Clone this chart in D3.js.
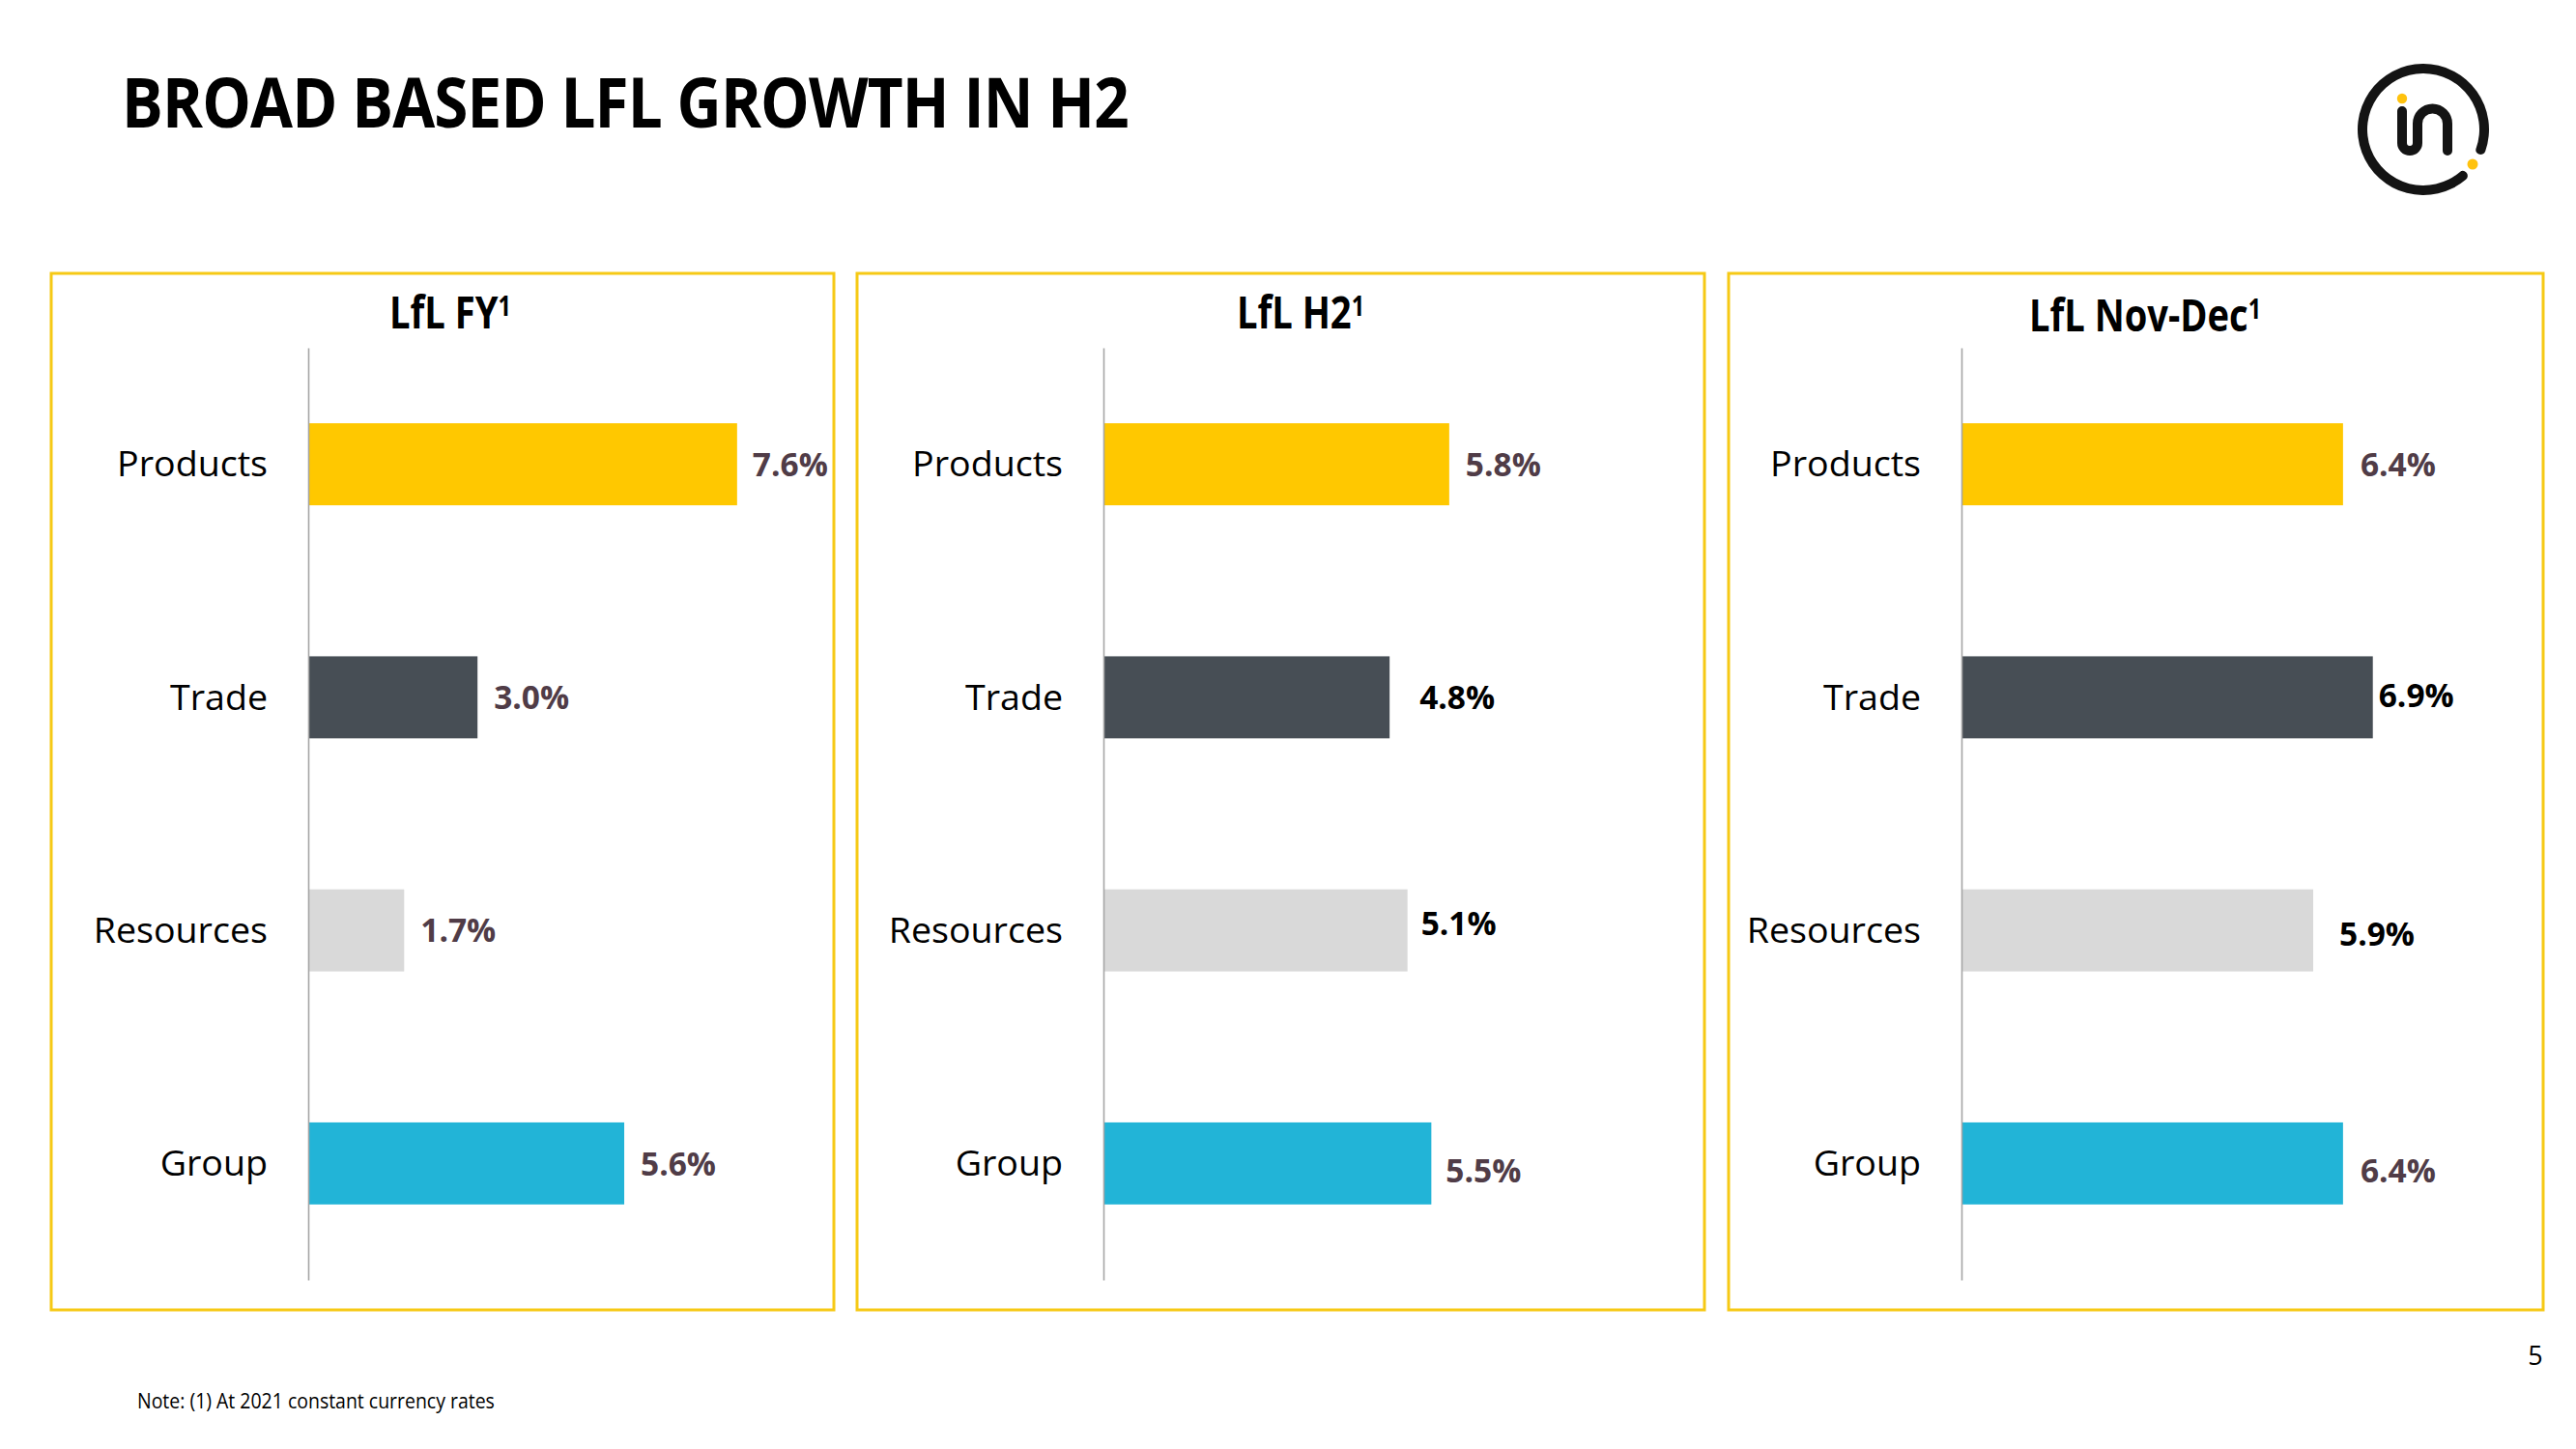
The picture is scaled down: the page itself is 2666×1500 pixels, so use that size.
<!DOCTYPE html>
<html>
<head>
<meta charset="utf-8">
<script src="https://cdn.jsdelivr.net/npm/d3@7"></script>
<style>
  html, body { margin: 0; padding: 0; background: #ffffff; }
  svg { display: block; }
</style>
</head>
<body>
<script>
// ---------------- DATA ----------------
const categories = ["Products", "Trade", "Resources", "Group"];
const panelTitles = ["LfL FY", "LfL H2", "LfL Nov-Dec"];
const lflFY = [7.6, 3.0, 1.7, 5.6];
const lflH2 = [5.8, 4.8, 5.1, 5.5];
const lflNovDec = [6.4, 6.9, 5.9, 6.4];
const seriesValues = [lflFY, lflH2, lflNovDec];
const chartTitle = "BROAD BASED LFL GROWTH IN H2";
const noteText = "Note: (1) At 2021 constant currency rates";
const pageNumber = "5";

// ---------------- LAYOUT / STYLE ----------------
const W = 2666, H = 1500;
const barColors = ["#FFC800", "#474E55", "#D9D9D9", "#22B4D7"];
const BROWN = "#503C47", BLACK = "#000000";
const panels = [
  { x0: 53, x1: 863, axisX: 319, range: 584, titleCx: 466, titleBase: 340 },
  { x0: 887, x1: 1764, axisX: 1142, range: 617, titleCx: 1346, titleBase: 340 },
  { x0: 1789, x1: 2632, axisX: 2030, range: 617, titleCx: 2220, titleBase: 343 }
];
const panelTop = 283, panelBottom = 1356;
const axisTop = 360, axisBottom = 1325;
// label colours and small nudges (dx, dy) per panel, per bar
const labelColors = [
  [BROWN, BROWN, BROWN, BROWN],
  [BROWN, BLACK, BLACK, BROWN],
  [BROWN, BLACK, BLACK, BROWN]
];
const labelNudge = [
  [[-1, 0], [0, 0], [0, 0], [0, 0]],
  [[0, 0], [14, 0], [-3, -7], [-2, 7]],
  [[1, 0], [-11, -2], [10, 4], [1, 7]]
];
const FONT = "'Open Sans', 'Noto Sans', 'DejaVu Sans', sans-serif";

const svg = d3.select("body").append("svg")
  .attr("width", W).attr("height", H)
  .attr("viewBox", `0 0 ${W} ${H}`);

svg.append("rect").attr("width", W).attr("height", H).attr("fill", "#fff");

// helper: squeeze a group of texts horizontally so that a reference text matches a target width
function squeeze(nodes, refNode, target) {
  const w = refNode.getBBox().width;
  const f = w > 0 ? target / w : 1;
  nodes.forEach(n => {
    const t = d3.select(n);
    const tx = +t.attr("data-x"), ty = +t.attr("data-y");
    t.attr("transform", `translate(${tx},${ty}) scale(${f},1)`);
  });
  return f;
}

// ---------------- TITLE ----------------
const title = svg.append("text")
  .attr("data-x", 126).attr("data-y", 132)
  .attr("transform", "translate(126,132)")
  .attr("font-family", FONT).attr("font-weight", 700)
  .attr("font-size", 72).attr("fill", "#000")
  .attr("letter-spacing", -1)
  .text(chartTitle);
squeeze([title.node()], title.node(), 1042);

// ---------------- LOGO ----------------
const logo = svg.append("g").attr("transform", "translate(2508,134)");
logo.append("path")
  .attr("d", d3.arc().innerRadius(58).outerRadius(68)
    .startAngle(135 * Math.PI / 180).endAngle(474 * Math.PI / 180).cornerRadius(5)())
  .attr("fill", "#141414");
logo.append("circle").attr("cx", 51).attr("cy", 36).attr("r", 5.5).attr("fill", "#FFC20E");
logo.append("circle").attr("cx", -22).attr("cy", -32).attr("r", 5.2).attr("fill", "#FFC20E");
logo.append("path")
  .attr("d", "M-22,-19 V14 A8,8 0 0 0 -6,14 V-6 A15.5,15.5 0 0 1 25,-6 V22")
  .attr("fill", "none").attr("stroke", "#141414").attr("stroke-width", 10)
  .attr("stroke-linecap", "round").attr("stroke-linejoin", "round");

// ---------------- PANELS ----------------
const y = d3.scaleBand().domain(categories)
  .range([axisTop, axisBottom]).paddingInner(0.648).paddingOuter(0.324);
const fmt = v => d3.format(".1f")(v) + "%";

const catTexts = [], valTexts = [], panelTitleTexts = [];

panels.forEach((p, pi) => {
  const g = svg.append("g");
  // border
  g.append("rect")
    .attr("x", p.x0).attr("y", panelTop)
    .attr("width", p.x1 - p.x0).attr("height", panelBottom - panelTop)
    .attr("fill", "none").attr("stroke", "#F6C915").attr("stroke-width", 3);

  // panel title
  const t = g.append("text")
    .attr("data-x", p.titleCx).attr("data-y", p.titleBase)
    .attr("transform", `translate(${p.titleCx},${p.titleBase})`)
    .attr("text-anchor", "middle")
    .attr("font-family", FONT).attr("font-weight", 700)
    .attr("font-size", 47).attr("fill", "#000");
  t.append("tspan").text(panelTitles[pi]);
  t.append("tspan").attr("font-size", 29).attr("dy", -13).text("1");
  panelTitleTexts.push(t.node());

  const x = d3.scaleLinear().domain([0, 10]).range([p.axisX, p.axisX + p.range]);
  const vals = seriesValues[pi];
  const rows = categories.map((c, i) => ({ c, v: vals[i], i }));

  // bars
  g.selectAll("rect.bar").data(rows).join("rect")
    .attr("class", "bar")
    .attr("x", x(0))
    .attr("y", d => y(d.c))
    .attr("width", d => x(d.v) - x(0))
    .attr("height", y.bandwidth())
    .attr("fill", d => barColors[d.i]);

  // axis
  const ax = g.append("g")
    .attr("transform", `translate(${p.axisX},0)`)
    .call(d3.axisLeft(y).tickSizeInner(0).tickSizeOuter(0).tickPadding(42));
  ax.select(".domain").attr("stroke", "#A6A6A6").attr("stroke-width", 1.6);
  ax.selectAll(".tick text").each(function () {
    const s = d3.select(this);
    s.attr("x", null).attr("dy", "0.357em")
      .attr("data-x", -42).attr("data-y", 0)
      .attr("transform", "translate(-42,0)")
      .attr("font-family", FONT).attr("font-size", 36)
      .attr("fill", "#000");
    catTexts.push(this);
  });
  ax.attr("font-family", null).attr("font-size", null);

  // value labels
  g.selectAll("text.val").data(rows).join("text")
    .attr("class", "val")
    .each(function (d) {
      const [dx, dy] = labelNudge[pi][d.i];
      const lx = x(d.v) + 17 + dx;
      const ly = y(d.c) + y.bandwidth() / 2 + dy;
      d3.select(this).attr("data-x", lx).attr("data-y", ly)
        .attr("transform", `translate(${lx},${ly})`);
      valTexts.push(this);
    })
    .attr("dy", "0.357em")
    .attr("font-family", FONT).attr("font-weight", 700)
    .attr("font-size", 34)
    .attr("fill", d => labelColors[pi][d.i])
    .text(d => fmt(d.v));
});

squeeze(catTexts, catTexts[0], 156);
squeeze(valTexts, valTexts[0], 78);
squeeze(panelTitleTexts, panelTitleTexts[0], 126);

// ---------------- NOTE & PAGE NUMBER ----------------
const note = svg.append("text")
  .attr("data-x", 142).attr("data-y", 1458)
  .attr("transform", "translate(142,1458)")
  .attr("font-family", FONT).attr("font-size", 22).attr("fill", "#000")
  .text(noteText);
squeeze([note.node()], note.node(), 370);

svg.append("text")
  .attr("x", 2624).attr("y", 1413)
  .attr("text-anchor", "middle")
  .attr("font-family", FONT).attr("font-size", 27).attr("fill", "#000")
  .text(pageNumber);
</script>
</body>
</html>
